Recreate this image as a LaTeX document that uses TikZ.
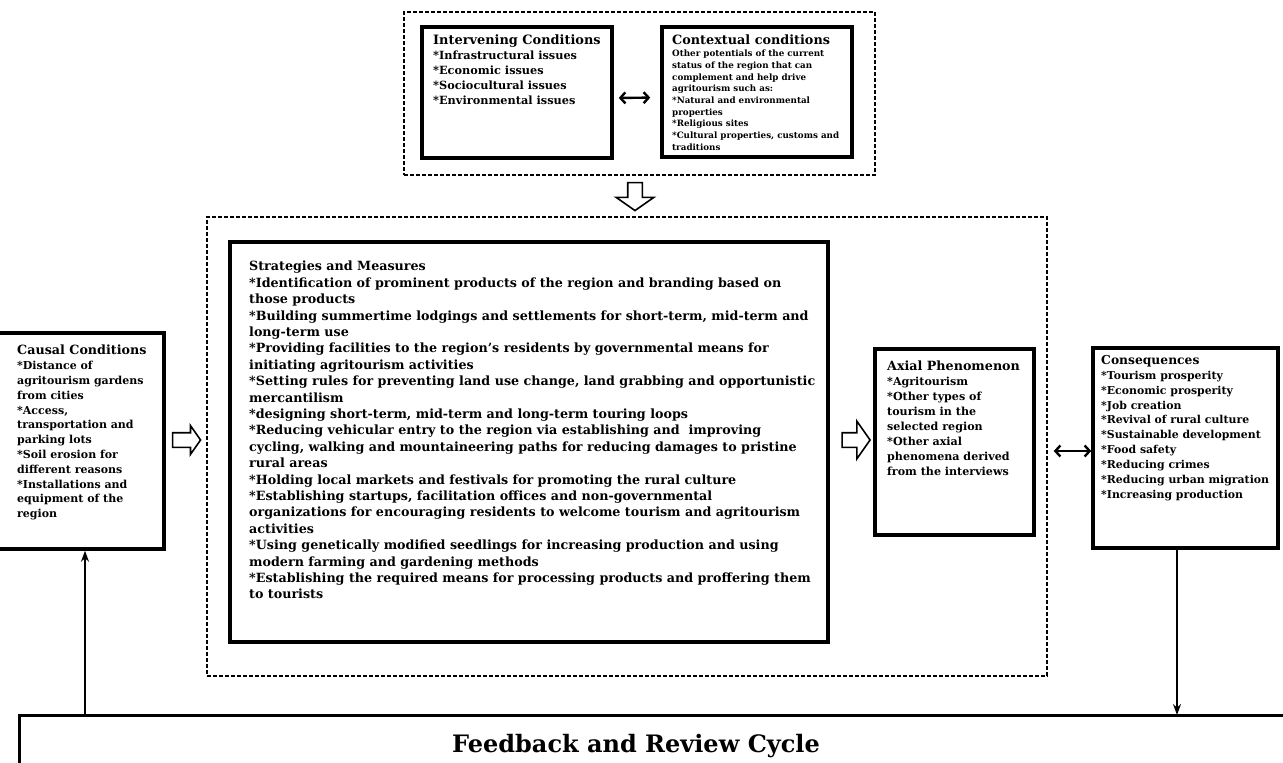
\documentclass[tikz,border=0pt]{standalone}
\usepackage{fontspec}
\setmainfont{DejaVu Serif}
\usetikzlibrary{shapes.arrows}
\usetikzlibrary{arrows.meta}

\newcommand{\boxtitle}[1]{{\fontsize{12.7}{14.8}\selectfont #1}}

\tikzset{
  box/.style={draw, line width=3.5pt, inner sep=0pt},
  frame/.style={draw, line width=2.7pt, dash pattern=on 4pt off 2pt, inner sep=0pt},
  txt/.style={anchor=north west, inner sep=0pt, align=left,
              font=\bfseries\fontsize{11}{14.8}\selectfont},
  hollow/.style={single arrow, draw, line width=1.6pt, inner xsep=0pt, inner ysep=6.5pt,
                 single arrow head extend=7pt, minimum height=28pt, single arrow tip angle=110},
  dbl/.style={{Straight Barb[length=5pt,width=11pt]}-{Straight Barb[length=5pt,width=11pt]}, line width=2.4pt},
  feed/.style={-{Stealth[length=11pt,width=8pt]}, line width=1.5pt}
}

\begin{document}
\begin{tikzpicture}[x=1pt,y=-1pt]
        \useasboundingbox (0,0) rectangle (1283,763);

        % dashed frames
        \node[frame, minimum width=471pt, minimum height=163pt] (ctxframe) at (639.5,93.5) {};
        \node[frame, minimum width=840pt, minimum height=459pt] (mainframe) at (627,446.5) {};

        % boxes
        \node[box, minimum width=190pt, minimum height=131pt] (interv) at (517,92.5) {};
        \node[box, minimum width=190pt, minimum height=130pt] (context) at (757,92) {};
        \node[box, minimum width=598pt, minimum height=400pt] (strat) at (529,442) {};
        \node[box, minimum width=170pt, minimum height=216pt] (causal) at (79,441) {};
        \node[box, minimum width=159pt, minimum height=186pt] (axial) at (954.5,442) {};
        \node[box, minimum width=185pt, minimum height=200pt] (conseq) at (1185.5,448) {};
        \node[box, line width=3pt, minimum width=1281pt, minimum height=75pt] (feedback) at (659.5,752.5) {};

        % texts
        \node[txt, font=\bfseries\fontsize{11.3}{15}\selectfont] (interv-t) at (433,34)
             {{\fontsize{12.9}{15}\selectfont Intervening Conditions}\\*Infrastructural issues\\*Economic issues\\*Sociocultural issues\\*Environmental issues};
        \node[txt, font=\bfseries\fontsize{8.75}{11.7}\selectfont] (context-t) at (672,35)
             {{\fontsize{12.8}{15}\selectfont Contextual conditions}\\Other potentials of the current\\status of the region that can\\complement and help drive\\agritourism such as:\\*Natural and environmental\\properties\\*Religious sites\\*Cultural properties, customs and\\traditions};
        \node[txt, font=\bfseries\fontsize{12.7}{16.4}\selectfont] (strat-t) at (249,261)
             {Strategies and Measures\\
              *Identification of prominent products of the region and branding based on\\
              those products\\
              *Building summertime lodgings and settlements for short-term, mid-term and\\
              long-term use\\
              *Providing facilities to the region’s residents by governmental means for\\
              initiating agritourism activities\\
              *Setting rules for preventing land use change, land grabbing and opportunistic\\
              mercantilism\\
              *designing short-term, mid-term and long-term touring loops\\
              *Reducing vehicular entry to the region via establishing and\ \ improving\\
              cycling, walking and mountaineering paths for reducing damages to pristine\\
              rural areas\\
              *Holding local markets and festivals for promoting the rural culture\\
              *Establishing startups, facilitation offices and non-governmental\\
              organizations for encouraging residents to welcome tourism and agritourism\\
              activities\\
              *Using genetically modified seedlings for increasing production and using\\
              modern farming and gardening methods\\
              *Establishing the required means for processing products and proffering them\\
              to tourists};
        \node[txt] (causal-t) at (17,345)
             {\boxtitle{Causal Conditions}\\*Distance of\\agritourism gardens\\from cities\\*Access,\\transportation and\\parking lots\\*Soil erosion for\\different reasons\\*Installations and\\equipment of the\\region};
        \node[txt, font=\bfseries\fontsize{11.1}{14.9}\selectfont] (axial-t) at (887,361)
             {\boxtitle{Axial Phenomenon}\\*Agritourism\\*Other types of\\tourism in the\\selected region\\*Other axial\\phenomena derived\\from the interviews};
        \node[txt, font=\bfseries\fontsize{10.9}{14.9}\selectfont] (conseq-t) at (1101,355)
             {{\fontsize{12.3}{14.9}\selectfont Consequences}\\*Tourism prosperity\\*Economic prosperity\\*Job creation\\*Revival of rural culture\\*Sustainable development\\*Food safety\\*Reducing crimes\\*Reducing urban migration\\*Increasing production};
        \node[font=\bfseries\fontsize{24}{28}\selectfont] (feedback-t) at (636,746) {Feedback and Review Cycle};

        % hollow arrows
        \node[hollow] (arrcause) at (184,440) {};
        \node[hollow, single arrow head extend=11.5pt] (arrstrat) at (853.5,440) {};
        \node[hollow, rotate=-90, single arrow head extend=11.5pt] (arrdown) at (635,194) {};

        % connectors
        \draw[dbl, shorten <=5pt, shorten >=10pt] ([yshift=-5.5pt]interv.east) -- ([yshift=-5.5pt]context.west);
        \coordinate (ax) at ([yshift=-9pt]axial.east);
        \draw[dbl, shorten <=18pt] (ax) -- (ax -| conseq.west);
        \coordinate (fbl) at (85,715);
        \coordinate (fbr) at (1177,715);
        \draw[feed] (fbl) -- (fbl |- causal.south);
        \draw[feed] (fbr |- conseq.south) -- (fbr);
\end{tikzpicture}
\end{document}
